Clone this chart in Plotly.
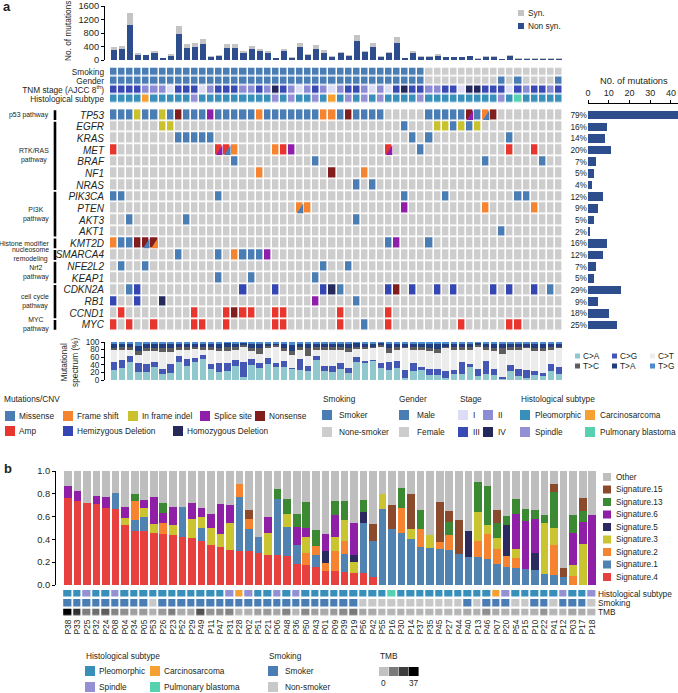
import plotly.graph_objects as go

W, H = 678, 693
FONT = "Liberation Sans, Arial, Helvetica, sans-serif"
TXT = "#231f20"


def X(px):
    return px / W


def Y(py):
    return 1 - py / H


# ======================= Panel a data =======================
non_syn = [300, 320, 1050, 155, 150, 220, 50, 125, 760, 350,
           385, 475, 80, 125, 350, 355, 215, 320, 265, 205,
           45, 260, 70, 395, 155, 335, 215, 90, 215, 130,
           575, 225, 375, 90, 200, 515, 50, 200, 100, 100,
           130, 80, 80, 90, 120, 40, 100, 100, 30, 120,
           40, 40, 40, 40, 40, 40]
syn = [75, 90, 330, 50, 10, 60, 5, 45, 250, 130,
       110, 145, 25, 35, 120, 120, 65, 85, 65, 50,
       15, 75, 5, 110, 25, 115, 75, 20, 35, 30,
       165, 45, 130, 20, 45, 165, 10, 65, 10, 10,
       40, 10, 5, 5, 10, 5, 5, 5, 5, 20,
       5, 5, 5, 5, 5, 5]

smoking_a = "YYYYYYYYYY" "YYYYYYYYYY" "YYYYYYYYYY" "YYYYYYYYYN" "NNNNNNNNNN" "NNNNNN"
gender_a = "MMMMMMMMMM" "MMMMMMMMMM" "MMMMMMMMMM" "MMMMMMMMMF" "FFFFFFFFMF" "MFFFFM"
stage_a = "3333222133" "3123332232" "4321232123" "3212134332" "2331443331" "323323"
hist_a = "PPPPCPPPPP" "SPPPPPPPPP" "SPSPPSPCPS" "PSPSPPPPSP" "PPPPPPPPSP" "BPPPPP"

track_labels = ["Smoking", "Gender", "TNM stage (AJCC 8<sup>th</sup>)", "Histological subtype"]

genes = ["TP53", "EGFR", "KRAS", "MET", "BRAF", "NF1", "NRAS", "PIK3CA", "PTEN", "AKT3",
         "AKT1", "KMT2D", "SMARCA4", "NFE2L2", "KEAP1", "CDKN2A", "RB1", "CCND1", "MYC"]
# codes: . none, M missense, F frame shift, I in-frame indel, S splice, N nonsense,
#        A amp, H hemizygous deletion, D homozygous deletion
gene_alts = {
    "TP53":    "MMMIMMIMNM" "MMSMMMMMFM" "MMMMMMFFMN" "MMMM.....M" "MMMMNMFN.." "......",
    "EGFR":    "......II.." ".........." ".........." "......M..." "IIMIMI...." "......",
    "KRAS":    "........MM" "MMM......." ".........." ".......M.M" ".........M" "......",
    "MET":     "A........." "...AAF...." "FAS......." "....A...M." ".........A" "..A...",
    "BRAF":    ".........." ".....M...." ".....M...." ".........." "......M..." "...M..",
    "NF1":     ".........." "........F." ".......N.." ".F........" ".........." "......",
    "NRAS":    ".........." ".........." ".........." "M.M......." ".........." "......",
    "PIK3CA":  "MM........" "...M......" ".........." "......M..." ".M........" "MM....",
    "PTEN":    ".........." ".........." "...FF....." "......S..." "......F..." "..F...",
    "AKT3":    "..M......M" ".........." ".........." "M........." ".........." "......",
    "AKT1":    ".........." ".........." ".........." ".........." "........M." "......",
    "KMT2D":   "FMMNNN...." ".........." ".........." "....MS...M" ".........." "......",
    "SMARCA4": "........M." "...M.FMMMS" ".........." ".........." ".........." "......",
    "NFE2L2":  ".M..M....." ".........." "......M..M" ".........." ".........." "......",
    "KEAP1":   ".........." "...M...M.." ".....M...." ".........." ".........." "......",
    "CDKN2A":  "..MH......" "......H..." "H.....HDM." "....HN.H.." "H.H....H.H" "..H.M.",
    "RB1":     "H..H..D..." ".........." ".....S...." "M........." ".........." "......",
    "CCND1":   ".A........" "A...ANAA.." "AA......A." "....A....." ".........." "......",
    "MYC":     "A.A..A...." "AA..A....." "AA......A." ".M..A....." "...A.....A" "A.....",
}
# cells carrying two alterations: (gene, sample column, second alteration)
split_cells = [("TP53", 44, "S"), ("TP53", 46, "M"), ("MET", 13, "S"), ("MET", 14, "M"),
               ("MET", 34, "S"), ("PTEN", 23, "M"), ("KMT2D", 4, "M"), ("KMT2D", 5, "F")]

gene_counts = [44, 9, 8, 11, 4, 3, 2, 7, 5, 3, 1, 9, 7, 4, 3, 16, 5, 10, 14]
gene_pct = ["79%", "16%", "14%", "20%", "7%", "5%", "4%", "12%", "9%", "5%", "2%",
            "16%", "12%", "7%", "5%", "29%", "9%", "18%", "25%"]

pathways = [("p53 pathway", 0, 0), ("RTK/RAS<br>pathway", 1, 6), ("PI3K<br>pathway", 7, 10),
            ("Histone modifier", 11, 11), ("nucleosome<br>remodeling", 12, 12),
            ("Nrf2<br>pathway", 13, 14), ("cell cycle<br>pathway", 15, 17), ("MYC<br>pathway", 18, 18)]

# mutational spectrum: cumulative tops (%) of C>A, C>G, C>T, T>C, T>A (T>G fills to 100)
ca_top = [27, 32, 47, 21, 20, 35, 15, 19, 48, 38, 47, 54, 30, 22, 24, 38, 9, 40, 32, 41,
          34, 35, 30, 26, 24, 52, 24, 22, 29, 19, 47, 44, 49, 32, 26, 32, 6, 23, 27, 13,
          14, 6, 15, 17, 34, 10, 15, 13, 3, 25, 10, 6, 12, 10, 23, 15]
cg_top = [48, 53, 62, 44, 43, 48, 30, 43, 62, 55, 58, 65, 43, 44, 45, 53, 48, 55, 46, 59,
          46, 49, 32, 55, 36, 63, 36, 38, 46, 32, 60, 49, 53, 46, 48, 49, 26, 46, 34, 29,
          29, 23, 26, 47, 43, 29, 51, 29, 8, 40, 29, 26, 23, 19, 42, 34]
ct_top = [78, 80, 80, 66, 77, 77, 74, 73, 80, 80, 82, 79, 80, 77, 77, 80, 87, 77, 68, 83,
          87, 77, 66, 80, 62, 80, 80, 80, 80, 74, 81, 81, 83, 87, 72, 80, 83, 79, 80, 77,
          72, 83, 78, 80, 80, 87, 78, 77, 68, 79, 79, 83, 77, 77, 80, 83]
tc_top = [85, 87, 87, 77, 85, 85, 83, 85, 87, 87, 87, 87, 87, 85, 87, 87, 91, 85, 85, 89,
          91, 85, 77, 87, 85, 87, 87, 87, 87, 85, 87, 87, 87, 91, 85, 87, 88, 87, 87, 85,
          82, 88, 86, 87, 87, 91, 86, 85, 83, 87, 87, 88, 85, 85, 87, 88]
ta_top = [95, 96, 96, 89, 96, 96, 94, 96, 96, 96, 96, 96, 96, 96, 97, 96, 97, 96, 96, 96,
          96, 96, 91, 96, 96, 96, 96, 96, 96, 96, 97, 96, 96, 97, 96, 96, 96, 96, 96, 96,
          94, 96, 96, 96, 96, 97, 96, 96, 95, 96, 96, 96, 96, 96, 96, 96]
spec_names = ["C>A", "C>G", "C>T", "T>C", "T>A", "T>G"]

# ======================= Panel b data =======================
samples_b = ["P38", "P33", "P25", "P32", "P24", "P08", "P04", "P34", "P05", "P53",
             "P26", "P23", "P52", "P29", "P49", "P11", "P47", "P31", "P28", "P02",
             "P51", "P21", "P06", "P48", "P36", "P50", "P43", "P01", "P09", "P39",
             "P19", "P56", "P42", "P55", "P16", "P30", "P14", "P37", "P35", "P45",
             "P27", "P44", "P40", "P13", "P46", "P07", "P20", "P54", "P15", "P10",
             "P22", "P41", "P12", "P03", "P17", "P18"]
sig4 = [.766, .74, .716, .708, .678, .67, .526, .477, .474, .459,
        .444, .439, .421, .415, .389, .351, .336, .31, .30, .295,
        .278, .263, .26, .254, .184, .173, .158, .12, .12, .117,
        .108, .102, .07, 0, 0, 0, 0, 0, 0, 0,
        0, 0, 0, 0, 0, 0, 0, 0, 0, 0,
        0, 0, 0, 0, 0, 0]
sig1 = [0, 0, 0, 0, 0, .134, 0, .093, .122, 0,
        0, 0, .26, 0, .114, 0, 0, 0, .475, .196,
        .146, 0, .494, .255, .17, 0, .105, 0, 0, .158,
        0, .442, .316, .664, .494, .459, .406, .336, .322, .313,
        .304, .275, .243, .243, .231, .184, .161, .152, .14, .132,
        .094, .085, .073, 0, 0, 0]
sig2 = [0, 0, 0, 0, 0, 0, 0, .167, 0, 0,
        .103, 0, 0, 0, 0, 0, 0, 0, .114, .085,
        0, 0, 0, 0, 0, .111, .082, .073, .178, .114,
        0, 0, 0, 0, 0, .219, 0, .158, 0, .061,
        .138, 0, 0, .14, .213, .129, .096, .088, 0, 0,
        0, .263, 0, .079, 0, 0]
sig3 = [0, 0, 0, 0, 0, 0, .064, 0, .076, .079,
        0, .087, 0, .164, .097, .146, .108, .237, 0, 0,
        0, .196, 0, .114, 0, .134, 0, 0, .12, .184,
        .091, 0, 0, .134, 0, 0, .085, 0, .114, 0,
        0, 0, 0, .26, .082, .102, 0, .076, 0, 0,
        .453, .149, 0, .094, .357, 0]
sig5 = [0, 0, 0, 0, 0, 0, 0, 0, 0, 0,
        0, 0, 0, 0, 0, 0, 0, 0, 0, 0,
        0, 0, 0, 0, 0, 0, 0, .108, 0, 0,
        .061, .096, 0, 0, 0, 0, 0, 0, 0, 0,
        0, 0, .228, 0, 0, 0, .269, 0, 0, .146,
        0, 0, 0, 0, 0, 0]
sig6 = [.105, .087, 0, .076, .097, 0, .097, 0, .074, .237,
        .082, .155, 0, .137, .078, .123, .269, .153, 0, 0,
        0, .135, 0, 0, .158, .085, 0, .143, .199, 0,
        .284, 0, 0, 0, 0, 0, 0, 0, 0, 0,
        0, 0, 0, 0, 0, 0, 0, .304, .418, .298,
        0, 0, 0, .286, .199, .614]
sig13 = [0, 0, 0, 0, 0, 0, 0, .063, 0, 0,
         .093, 0, 0, 0, 0, 0, 0, 0, 0, 0,
         0, 0, .088, .131, .108, .222, .135, 0, .12, .164,
         0, .106, 0, 0, 0, .176, 0, .164, 0, 0,
         .114, 0, 0, .261, .342, .126, .079, .137, .106, .079,
         .067, .322, 0, .155, .096, 0]
sig15 = [0, 0, 0, 0, 0, 0, 0, 0, 0, 0,
         0, 0, 0, 0, 0, 0, 0, 0, 0, .082,
         0, 0, 0, 0, 0, 0, 0, 0, 0, 0,
         0, 0, .146, 0, .205, 0, .304, 0, 0, .354,
         .096, .295, 0, 0, 0, .12, 0, 0, 0, 0,
         0, .064, .079, 0, .114, 0]

hist_b = "PPSPPSPPPP" "PPPPPPPSCS" "PPSPSPPPPP" "PPPPBPPPPP" "PPPPPCSPPP" "PPSPPS"
smoke_b = "YYYYYYYYYN" "YYYYYYYYYY" "YYYYYYYYYY" "YNNNNNNNNN" "NNYNYYYNNY" "YNYYYN"
tmb_b = [37, 28, 14, 17, 20, 13, 11, 8, 9, 5,
         9, 14, 6, 6, 22, 10, 11, 13, 4, 5,
         8, 9, 7, 13, 4, 12, 8, 6, 9, 12,
         15, 7, 6, 4, 4, 5, 4, 4, 4, 4,
         4, 4, 6, 5, 11, 6, 5, 5, 4, 5,
         10, 4, 4, 7, 6, 4]

# ======================= colours =======================
NAVY = "#2e4d8c"
SYN_GREY = "#c4c4c4"
CELL_GREY = "#cdcdcd"
MUT_CODES = ".MFISNAHD"
MUT_COLORS = [CELL_GREY, "#4a7db3", "#f6832f", "#c9c12e", "#8f1fa8", "#821d1e",
              "#e8352d", "#3346b1", "#252a5a"]
MUT_NAMES = ["none", "Missense", "Frame shift", "In frame indel", "Splice site", "Nonsense",
             "Amp", "Hemizygous Deletion", "Homozygous Deletion"]
BLUE_ANN = "#4a7db3"
STAGE_COLORS = {"1": "#dcdcf4", "2": "#8b8bd6", "3": "#3a4ab4", "4": "#24275c"}
HIST_COLORS = {"P": "#3890ba", "C": "#f6a031", "S": "#9390d3", "B": "#56d2b1"}
SPEC_COLORS = ["#90c8ce", "#4557b5", "#ececec", "#5d5d5d", "#203e7d", "#4c8bcd"]
SIG_COLORS = {"Other": "#bebebe", "Signature.15": "#8c4a2c", "Signature.13": "#3b8a33",
              "Signature.6": "#8e1fa6", "Signature.5": "#2b2a5e", "Signature.3": "#c9c42f",
              "Signature.2": "#f5832f", "Signature.1": "#5082b2", "Signature.4": "#e8403f"}


def discrete(colors):
    k = len(colors)
    cs = []
    for i, c in enumerate(colors):
        cs.append([i / k, c])
        cs.append([(i + 1) / k, c])
    return cs


n = len(non_syn)
cols = list(range(n))
fig = go.Figure()

# ---------- top stacked mutation bars ----------
fig.add_trace(go.Bar(x=cols, y=non_syn, width=0.75, marker=dict(color=NAVY, line_width=0),
                     xaxis="x", yaxis="y", hoverinfo="skip"))
fig.add_trace(go.Bar(x=cols, y=syn, width=0.75, marker=dict(color=SYN_GREY, line_width=0),
                     xaxis="x", yaxis="y", hoverinfo="skip"))

# ---------- clinical tracks ----------
TRACK_COLORS = [BLUE_ANN, CELL_GREY, STAGE_COLORS["1"], STAGE_COLORS["2"], STAGE_COLORS["3"],
                STAGE_COLORS["4"], HIST_COLORS["P"], HIST_COLORS["C"], HIST_COLORS["S"], HIST_COLORS["B"]]
z_tracks = [
    [0 if c == "Y" else 1 for c in smoking_a],
    [0 if c == "M" else 1 for c in gender_a],
    [1 + int(c) for c in stage_a],
    [{"P": 6, "C": 7, "S": 8, "B": 9}[c] for c in hist_a],
]
fig.add_trace(go.Heatmap(z=z_tracks, x=cols, y=[0, 1, 2, 3], colorscale=discrete(TRACK_COLORS),
                         zmin=-0.5, zmax=len(TRACK_COLORS) - 0.5, showscale=False,
                         xgap=1.5, ygap=1.6, hoverinfo="skip", xaxis="x2", yaxis="y2"))

# ---------- gene alteration matrix ----------
z_genes = []
for g in genes:
    s = (gene_alts[g] + "." * n)[:n]
    z_genes.append([MUT_CODES.index(ch) for ch in s])
fig.add_trace(go.Heatmap(z=z_genes, x=cols, y=list(range(len(genes))),
                         colorscale=discrete(MUT_COLORS), zmin=-0.5, zmax=len(MUT_COLORS) - 0.5,
                         showscale=False, xgap=1.6, ygap=1.7, hoverinfo="skip",
                         xaxis="x3", yaxis="y3"))
gx, gy = 0.8 / 8.09, 0.85 / 11.67
for g, c, code in split_cells:
    r = genes.index(g)
    x0, x1 = c - 0.5 + gx, c + 0.5 - gx
    yb, yt = r + 0.5 - gy, r - 0.5 + gy
    fig.add_trace(go.Scatter(x=[x0, x1, x1, x0], y=[yb, yb, yt, yb], mode="lines", fill="toself",
                             fillcolor=MUT_COLORS[MUT_CODES.index(code)], line=dict(width=0),
                             hoverinfo="skip", xaxis="x3", yaxis="y3"))

# ---------- gene counts bar ----------
fig.add_trace(go.Bar(x=gene_counts, y=list(range(len(genes))), orientation="h", width=0.72,
                     marker=dict(color=NAVY, line_width=0), hoverinfo="skip",
                     xaxis="x5", yaxis="y5"))

# ---------- mutational spectrum ----------
tops = [ca_top, cg_top, ct_top, tc_top, ta_top, [100] * n]
prev = [0] * n
for name, top, col in zip(spec_names, tops, SPEC_COLORS):
    seg = [t - p for t, p in zip(top, prev)]
    fig.add_trace(go.Bar(x=cols, y=seg, width=0.8, marker=dict(color=col, line_width=0),
                         hoverinfo="skip", xaxis="x4", yaxis="y4"))
    prev = top

# ---------- panel b signatures ----------
sig_series = [("Signature.4", sig4), ("Signature.1", sig1), ("Signature.2", sig2),
              ("Signature.3", sig3), ("Signature.5", sig5), ("Signature.6", sig6),
              ("Signature.13", sig13), ("Signature.15", sig15)]
nb = len(samples_b)
colsb = list(range(nb))
other = [1 - sum(v[i] for _, v in sig_series) for i in range(nb)]
for name, vals in sig_series + [("Other", other)]:
    fig.add_trace(go.Bar(x=colsb, y=vals, width=0.8, marker=dict(color=SIG_COLORS[name], line_width=0),
                         hoverinfo="skip", xaxis="x6", yaxis="y6"))

B_COLORS = [HIST_COLORS["P"], HIST_COLORS["C"], HIST_COLORS["S"], HIST_COLORS["B"], BLUE_ANN, "#c8c8c8"]
z_b = [[{"P": 0, "C": 1, "S": 2, "B": 3}[c] for c in hist_b],
       [4 if c == "Y" else 5 for c in smoke_b]]
fig.add_trace(go.Heatmap(z=z_b, x=colsb, y=[0, 1], colorscale=discrete(B_COLORS), zmin=-0.5,
                         zmax=len(B_COLORS) - 0.5, showscale=False, xgap=1.8, ygap=2.5,
                         hoverinfo="skip", xaxis="x7", yaxis="y7"))
TMB_SCALE = [[0, "#cbcbcb"], [1, "#000000"]]
fig.add_trace(go.Heatmap(z=[tmb_b], x=colsb, y=[0], colorscale=TMB_SCALE, zmin=0, zmax=37,
                         showscale=False, xgap=1.8, ygap=2.5, hoverinfo="skip",
                         xaxis="x8", yaxis="y8"))

# ======================= axes =======================
dom_a = [X(105), X(563)]
rng_a = [-0.5 - 5 / 8.09, n - 0.5]
dom_b = [X(56), X(597)]
rng_b = [-0.5 - 7.2 / 9.53, nb - 0.5]


def hid(dom, rng, anchor, **kw):
    d = dict(domain=dom, range=rng, anchor=anchor, showgrid=False, zeroline=False,
             showticklabels=False, ticks="", showline=False, fixedrange=True, automargin=False)
    d.update(kw)
    return d


def vax(dom, rng, anchor, tickvals, ticktext=None, size=9.3, **kw):
    d = dict(domain=dom, range=rng, anchor=anchor, showgrid=False, zeroline=False,
             showline=True, linecolor="black", linewidth=1, ticks="outside", ticklen=3,
             tickcolor="black", tickwidth=1, tickvals=tickvals,
             tickfont=dict(size=size, color=TXT, family=FONT), fixedrange=True, automargin=False)
    if ticktext is not None:
        d["ticktext"] = ticktext
    d.update(kw)
    return d


layout = dict(
    width=W, height=H, margin=dict(l=0, r=0, t=0, b=0), template="none",
    paper_bgcolor="white", plot_bgcolor="white", barmode="stack", showlegend=False,
    font=dict(family=FONT, color=TXT),
    xaxis=hid(dom_a, rng_a, "y"),
    yaxis=vax([Y(60), Y(6)], [0, 1600], "x", [0, 400, 800, 1200, 1600]),
    xaxis2=hid(dom_a, rng_a, "y2"),
    yaxis2=hid([Y(103.5), Y(67.5)], [3.5, -0.5], "x2", showticklabels=True,
               tickvals=[0, 1, 2, 3], ticktext=track_labels,
               tickfont=dict(size=8.3, color=TXT, family=FONT)),
    xaxis3=hid(dom_a, rng_a, "y3"),
    yaxis3=hid([Y(330.8), Y(109.2)], [len(genes) - 0.5, -0.5], "x3", showticklabels=True,
               tickvals=list(range(len(genes))), ticktext=["<i>%s</i>" % g for g in genes],
               tickfont=dict(size=10, color=TXT, family=FONT)),
    xaxis4=hid(dom_a, rng_a, "y4"),
    yaxis4=vax([Y(380), Y(342)], [0, 100], "x4", [0, 20, 40, 60, 80, 100], size=8.2),
    xaxis5=vax([X(588), 1.0], [0, 43.4], "free", [0, 10, 20, 30, 40], size=9,
               side="top", position=Y(103)),
    yaxis5=hid([Y(330.8), Y(109.2)], [len(genes) - 0.5, -0.5], "x5", showticklabels=True,
               tickvals=list(range(len(genes))), ticktext=gene_pct,
               tickfont=dict(size=8.3, color=TXT, family=FONT)),
    xaxis6=hid(dom_b, rng_b, "y6"),
    yaxis6=vax([Y(585), Y(471)], [0, 1], "x6", [0, .2, .4, .6, .8, 1.0],
               ["0.0", "0.2", "0.4", "0.6", "0.8", "1.0"], size=9.3),
    xaxis7=hid(dom_b, rng_b, "y7"),
    yaxis7=hid([Y(607.7), Y(589)], [1.5, -0.5], "x7", showticklabels=True, side="right",
               tickvals=[0, 1], ticktext=["Histological subtype", "Smoking"],
               tickfont=dict(size=8.3, color=TXT, family=FONT)),
    xaxis8=hid(dom_b, rng_b, "y8", showticklabels=True, tickvals=colsb, ticktext=samples_b,
               tickangle=-90, tickfont=dict(size=8.4, color=TXT, family=FONT)),
    yaxis8=hid([Y(617), Y(607.7)], [0.5, -0.5], "x8", showticklabels=True, side="right",
               tickvals=[0], ticktext=["TMB"], tickfont=dict(size=8.3, color=TXT, family=FONT)),
)
fig.update_layout(**layout)


# ======================= texts & legends =======================
def text(x, y, s, size=8.3, xanchor="left", yanchor="middle", **kw):
    fig.add_annotation(x=X(x), y=Y(y), xref="paper", yref="paper", text=s, showarrow=False,
                       font=dict(size=size, family=FONT, color=TXT), xanchor=xanchor,
                       yanchor=yanchor, borderpad=0, **kw)


def swatch(x, yc, size, color, h=None):
    h = size if h is None else h
    fig.add_shape(type="rect", xref="paper", yref="paper", x0=X(x), x1=X(x + size),
                  y0=Y(yc + h / 2), y1=Y(yc - h / 2), fillcolor=color, line=dict(width=0),
                  layer="above")


text(2, 7, "<b>a</b>", size=13)
text(3, 468, "<b>b</b>", size=13)

text(68, 31, "No. of mutations", size=8.3, xanchor="center", textangle=-90)
text(69, 362, "Mutational<br>spectrum (%)", size=8.3, xanchor="center", textangle=-90)
text(634, 81, "N0. of mutations", size=9.3, xanchor="center")

# Syn / Non syn legend
swatch(518, 13, 6, SYN_GREY)
text(527, 13, "Syn.")
swatch(518, 26, 6, NAVY)
text(527, 26, "Non syn.")

# pathway labels and bars
for label, r0, r1 in pathways:
    fig.add_shape(type="line", xref="paper", yref="y3", x0=X(55), x1=X(55),
                  y0=r0 - 0.5 + 0.08, y1=r1 + 0.5 - 0.08, line=dict(color="black", width=2.6))
    fig.add_annotation(x=X(50), y=(r0 + r1) / 2, xref="paper", yref="y3", text=label,
                       showarrow=False, xanchor="right", yanchor="middle", align="center",
                       font=dict(size=6.9, family=FONT, color=TXT), borderpad=0)

# spectrum legend
for k, (name, col) in enumerate(zip(spec_names, SPEC_COLORS)):
    cx = [575, 612, 650][k % 3]
    cy = [356, 366][k // 3]
    swatch(cx, cy, 5, col)
    text(cx + 7, cy, name, size=8.3)

# panel a legend
text(3, 399, "Mutations/CNV")
mut_items = [(5, 416, 1), (63, 416, 2), (128, 416, 3), (200, 416, 4), (255, 416, 5),
             (5, 431, 6), (63, 431, 7), (173, 431, 8)]
for x, y, code in mut_items:
    swatch(x, y, 10, MUT_COLORS[code])
    text(x + 13, y, MUT_NAMES[code])

text(322, 399, "Smoking")
swatch(322, 415, 10, BLUE_ANN)
text(338, 415, "Smoker")
swatch(322, 432, 10, CELL_GREY)
text(338, 432, "None-smoker")

text(398, 399, "Gender")
swatch(399, 415, 10, BLUE_ANN)
text(416, 415, "Male")
swatch(399, 432, 10, CELL_GREY)
text(416, 432, "Female")

text(459, 399, "Stage")
for (x, y, st, nm) in [(458, 415, "1", "I"), (483, 415, "2", "II"), (458, 432, "3", "III"), (483, 432, "4", "IV")]:
    swatch(x, y, 10, STAGE_COLORS[st])
    text(x + 14, y, nm)

text(520, 399, "Histological subtype")
for (x, y, h, nm) in [(520, 415, "P", "Pleomorphic"), (585, 415, "C", "Carcinosarcoma"),
                      (520, 432, "S", "Spindle"), (585, 432, "B", "Pulmonary blastoma")]:
    swatch(x, y, 10, HIST_COLORS[h])
    text(x + 14, y, nm)

# signature legend
sig_legend = ["Other", "Signature.15", "Signature.13", "Signature.6", "Signature.5",
              "Signature.3", "Signature.2", "Signature.1", "Signature.4"]
for k, name in enumerate(sig_legend):
    yy = 477 + 12.5 * k
    swatch(603, yy, 8, SIG_COLORS[name])
    text(615, yy, name, size=8.2)

# panel b bottom legend
text(85, 656, "Histological subtype")
for (x, y, h, nm) in [(85, 671, "P", "Pleomorphic"), (150, 671, "C", "Carcinosarcoma"),
                      (85, 687, "S", "Spindle"), (150, 687, "B", "Pulmonary blastoma")]:
    swatch(x, y, 10, HIST_COLORS[h])
    text(x + 13, y, nm)
text(268, 656, "Smoking")
swatch(268, 671, 10, BLUE_ANN)
text(284, 671, "Smoker")
swatch(268, 687, 10, "#c8c8c8")
text(284, 687, "Non-smoker")
text(379, 656, "TMB")
tmb_leg = ["#c2c2c2", "#7a7a7a", "#3d3d3d", "#000000"]
for k, col in enumerate(tmb_leg):
    swatch(379 + 10 * k, 671.5, 9.6, col, h=9)
text(383, 683, "0", xanchor="center")
text(414, 683, "37", xanchor="center")

fig.write_html("out.html", config={"displayModeBar": False, "staticPlot": True},
               post_script="document.body.style.margin='0px';document.body.style.overflow='hidden';")
